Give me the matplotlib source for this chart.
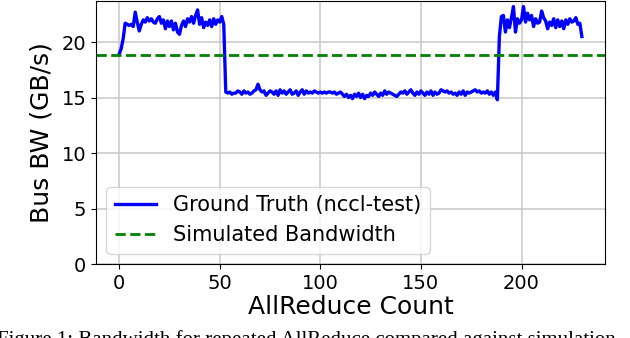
import matplotlib
matplotlib.use("Agg")
import matplotlib.pyplot as plt
import numpy as np

# Ground truth bus bandwidth (GB/s) per AllReduce iteration
high_start = [18.9, 19.4, 20.3, 21.7, 21.6, 21.5, 21.6, 21.4, 22.7, 21.8,
              21.0, 21.6, 22.0, 21.8, 22.2, 21.9, 22.1, 21.8, 21.7, 22.1,
              22.3, 21.7, 22.0, 21.2, 21.9, 21.4, 21.9, 21.1, 21.7, 20.9,
              20.7, 21.5, 21.9, 21.4, 22.1, 21.8, 22.3, 21.7, 22.4, 22.9,
              21.6, 22.2, 21.3, 21.8, 21.5, 22.0, 21.4, 22.1, 21.6, 22.0,
              21.8, 22.3, 21.6]
low_middle = [15.5, 15.4, 15.5, 15.3, 15.4, 15.4, 15.6, 15.5, 15.3, 15.6,
              15.4, 15.5, 15.3, 15.4, 15.6, 15.7, 16.2, 15.7, 15.5, 15.6,
              15.2, 15.4, 15.6, 15.5, 15.3, 15.6, 15.2, 15.7, 15.4, 15.6,
              15.3, 15.5, 15.7, 15.3, 15.4, 15.6, 15.2, 15.5, 15.7, 15.3,
              15.6, 15.4, 15.5, 15.4, 15.6, 15.5, 15.4, 15.5, 15.4, 15.5,
              15.4, 15.5, 15.5, 15.4, 15.5, 15.3, 15.4, 15.5, 15.3, 15.1,
              15.3, 15.0, 15.2, 14.9, 15.3, 15.1, 15.4, 15.0, 15.3, 14.9,
              15.2, 15.1, 15.4, 15.2, 15.5, 15.3, 15.1, 15.4, 15.2, 15.6,
              15.3, 15.5, 15.4, 15.3, 15.2, 15.1, 15.3, 15.5, 15.4, 15.6,
              15.3, 15.5, 15.7, 15.4, 15.2, 15.5, 15.3, 15.6, 15.4, 15.2,
              15.5, 15.3, 15.6, 15.2, 15.5, 15.3, 15.4, 15.7, 15.6, 15.5,
              15.6, 15.4, 15.5, 15.3, 15.4, 15.2, 15.5, 15.3, 15.6, 15.2,
              15.5, 15.4, 15.5, 15.6, 15.7, 15.5, 15.6, 15.4, 15.5, 15.4,
              15.6, 15.3, 15.5, 15.2, 15.5, 14.8]
high_end = [20.5, 22.3, 22.4, 20.9, 22.0, 21.3, 22.2, 23.2, 20.9, 22.1,
            21.7, 22.0, 23.2, 21.8, 22.6, 22.0, 22.4, 21.4, 22.1, 21.7,
            21.8, 22.8, 22.2, 21.9, 21.2, 21.8, 21.5, 22.1, 21.3, 22.0,
            21.4, 21.9, 21.2, 22.0, 21.6, 22.1, 21.8, 21.9, 22.2, 21.6,
            21.7, 20.5]
ground_truth = high_start + low_middle + high_end
simulated_bw = 18.85

x_ticks = [0, 50, 100, 150, 200]
y_ticks = [0, 5, 10, 15, 20]

fig = plt.figure(figsize=(6.3, 3.38), dpi=100)
ax = fig.add_axes([96/630, 1 - 264/338, (605 - 96)/630, 264/338 - 0.003])

x = np.arange(len(ground_truth))
ax.plot(x, ground_truth, color="blue", lw=2.4, label="Ground Truth (nccl-test)")
ax.axhline(simulated_bw, color="green", lw=2, ls="--", label="Simulated Bandwidth")

ax.set_xlim(-11.5, 241.5)
ax.set_ylim(0, 23.7)
ax.set_xticks(x_ticks)
ax.set_yticks(y_ticks)
ax.tick_params(labelsize=14)
ax.grid(True, color="#c8c8c8", lw=1.1)
ax.set_axisbelow(True)
ax.set_xlabel("AllReduce Count", fontsize=18, labelpad=2)
ax.set_ylabel("Bus BW (GB/s)", fontsize=18, labelpad=6)
ax.legend(loc="lower left", fontsize=15)

fig.text(-0.005, -0.006, "Figure 1: Bandwidth for repeated AllReduce compared against simulation",
         family="Liberation Serif", fontsize=15, va="center", ha="left")

fig.savefig("out.png", dpi=100)
